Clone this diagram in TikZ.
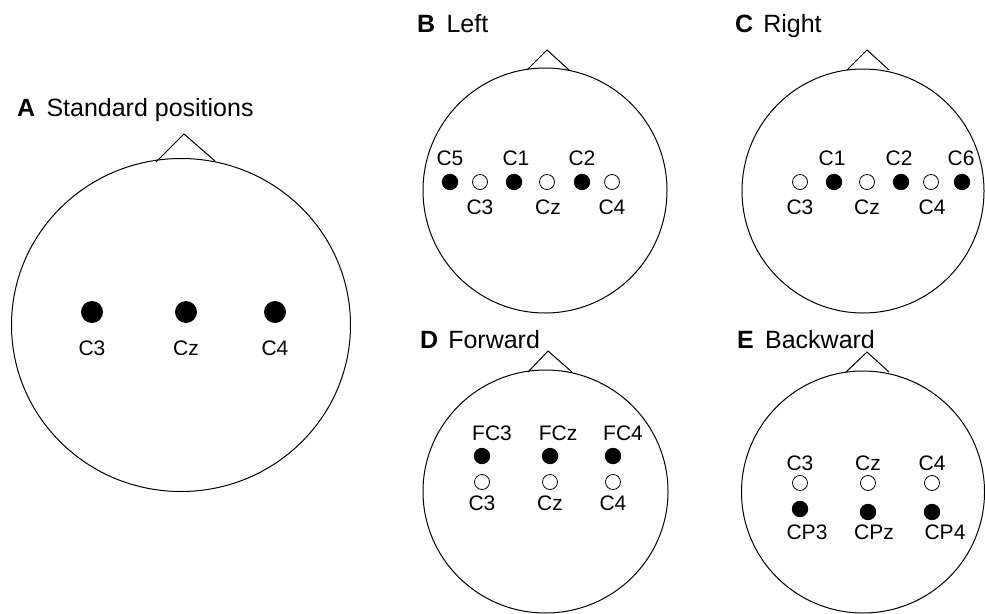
\documentclass[tikz,border=0pt]{standalone}
\usepackage{fontspec}
\setmainfont{Liberation Sans}
\begin{document}
\begin{tikzpicture}[x=1pt,y=-1pt,
  head/.style={draw=black,line width=1pt},
  on/.style={circle,fill=black,draw=black,line width=0.8pt,minimum size=15.5pt,inner sep=0pt},
  off/.style={circle,fill=white,draw=black,line width=0.8pt,minimum size=15pt,inner sep=0pt},
  big/.style={circle,fill=black,minimum size=22pt,inner sep=0pt},
  lab/.style={inner sep=0pt,font=\fontsize{21}{21}\selectfont},
  ttl/.style={anchor=base west,inner sep=0pt,font=\fontsize{25}{25}\selectfont}]
\useasboundingbox (0,0) rectangle (985,613);

% ---------- A ----------
\node[ttl] (tA) at (17,116) {\textbf{A}\hspace{0.45em}Standard positions};
\draw[head] (181,325) ellipse [x radius=169.5pt, y radius=166.5pt];
\draw[head] (156,162) -- (184,134) -- (215,161);
\node[big] (aC3) at (92,312) {};
\node[big] (aCz) at (186,312) {};
\node[big] (aC4) at (275,312) {};
\node[lab] (laC3) at (92,348) {C3};
\node[lab] (laCz) at (186,348) {Cz};
\node[lab] (laC4) at (275,348) {C4};

% ---------- B ----------
\node[ttl] (tB) at (417,32) {\textbf{B}\hspace{0.45em}Left};
\draw[head] (545,190.5) ellipse [x radius=122pt, y radius=122.5pt];
\draw[head] (527,70) -- (547,50) -- (569,70);
\node[on]  (bC5) at (450,182) {};
\node[off] (bC3) at (480,182) {};
\node[on]  (bC1) at (514,182) {};
\node[off] (bCz) at (547,182) {};
\node[on]  (bC2) at (582,182) {};
\node[off] (bC4) at (612,182) {};
\node[lab] (lbC5) at (450,158) {C5};
\node[lab] (lbC1) at (516,158) {C1};
\node[lab] (lbC2) at (582,158) {C2};
\node[lab] (lbC3) at (480,207) {C3};
\node[lab] (lbCz) at (548,207) {Cz};
\node[lab] (lbC4) at (612,207) {C4};

% ---------- C ----------
\node[ttl] (tC) at (735,32) {\textbf{C}\hspace{0.4em}Right};
\draw[head] (863,191) ellipse [x radius=121pt, y radius=122pt];
\draw[head] (847,70) -- (867,50) -- (889,70);
\node[off] (cC3) at (800,182) {};
\node[on]  (cC1) at (834,182) {};
\node[off] (cCz) at (867,182) {};
\node[on]  (cC2) at (901,182) {};
\node[off] (cC4) at (931,182) {};
\node[on]  (cC6) at (962,182) {};
\node[lab] (lcC1) at (832,158) {C1};
\node[lab] (lcC2) at (899,158) {C2};
\node[lab] (lcC6) at (961,158) {C6};
\node[lab] (lcC3) at (800,207) {C3};
\node[lab] (lcCz) at (867,207) {Cz};
\node[lab] (lcC4) at (932,207) {C4};

% ---------- D ----------
\node[ttl] (tD) at (420,348) {\textbf{D}\hspace{0.4em}Forward};
\draw[head] (545.5,491.5) ellipse [x radius=122.5pt, y radius=121.5pt];
\draw[head] (528,372) -- (548,351) -- (572,372);
\node[on]  (dFC3) at (482,456) {};
\node[on]  (dFCz) at (550,456) {};
\node[on]  (dFC4) at (613,456) {};
\node[off] (dC3) at (482,482) {};
\node[off] (dCz) at (550,482) {};
\node[off] (dC4) at (613,482) {};
\node[lab] (ldFC3) at (492,433) {FC3};
\node[lab] (ldFCz) at (558,433) {FCz};
\node[lab] (ldFC4) at (623,433) {FC4};
\node[lab] (ldC3) at (482,503) {C3};
\node[lab] (ldCz) at (550,503) {Cz};
\node[lab] (ldC4) at (613,503) {C4};

% ---------- E ----------
\node[ttl] (tE) at (737,348) {\textbf{E}\hspace{0.45em}Backward};
\draw[head] (863,492) ellipse [x radius=121.5pt, y radius=121pt];
\draw[head] (846,372) -- (867,352) -- (889,372);
\node[off] (eC3) at (800,483) {};
\node[off] (eCz) at (868,483) {};
\node[off] (eC4) at (932,483) {};
\node[on]  (eCP3) at (800,509) {};
\node[on]  (eCPz) at (868,512) {};
\node[on]  (eCP4) at (932,512) {};
\node[lab] (leC3) at (800,463) {C3};
\node[lab] (leCz) at (868,463) {Cz};
\node[lab] (leC4) at (932,463) {C4};
\node[lab] (leCP3) at (807,532) {CP3};
\node[lab] (leCPz) at (874,532) {CPz};
\node[lab] (leCP4) at (945,532) {CP4};
\end{tikzpicture}
\end{document}
